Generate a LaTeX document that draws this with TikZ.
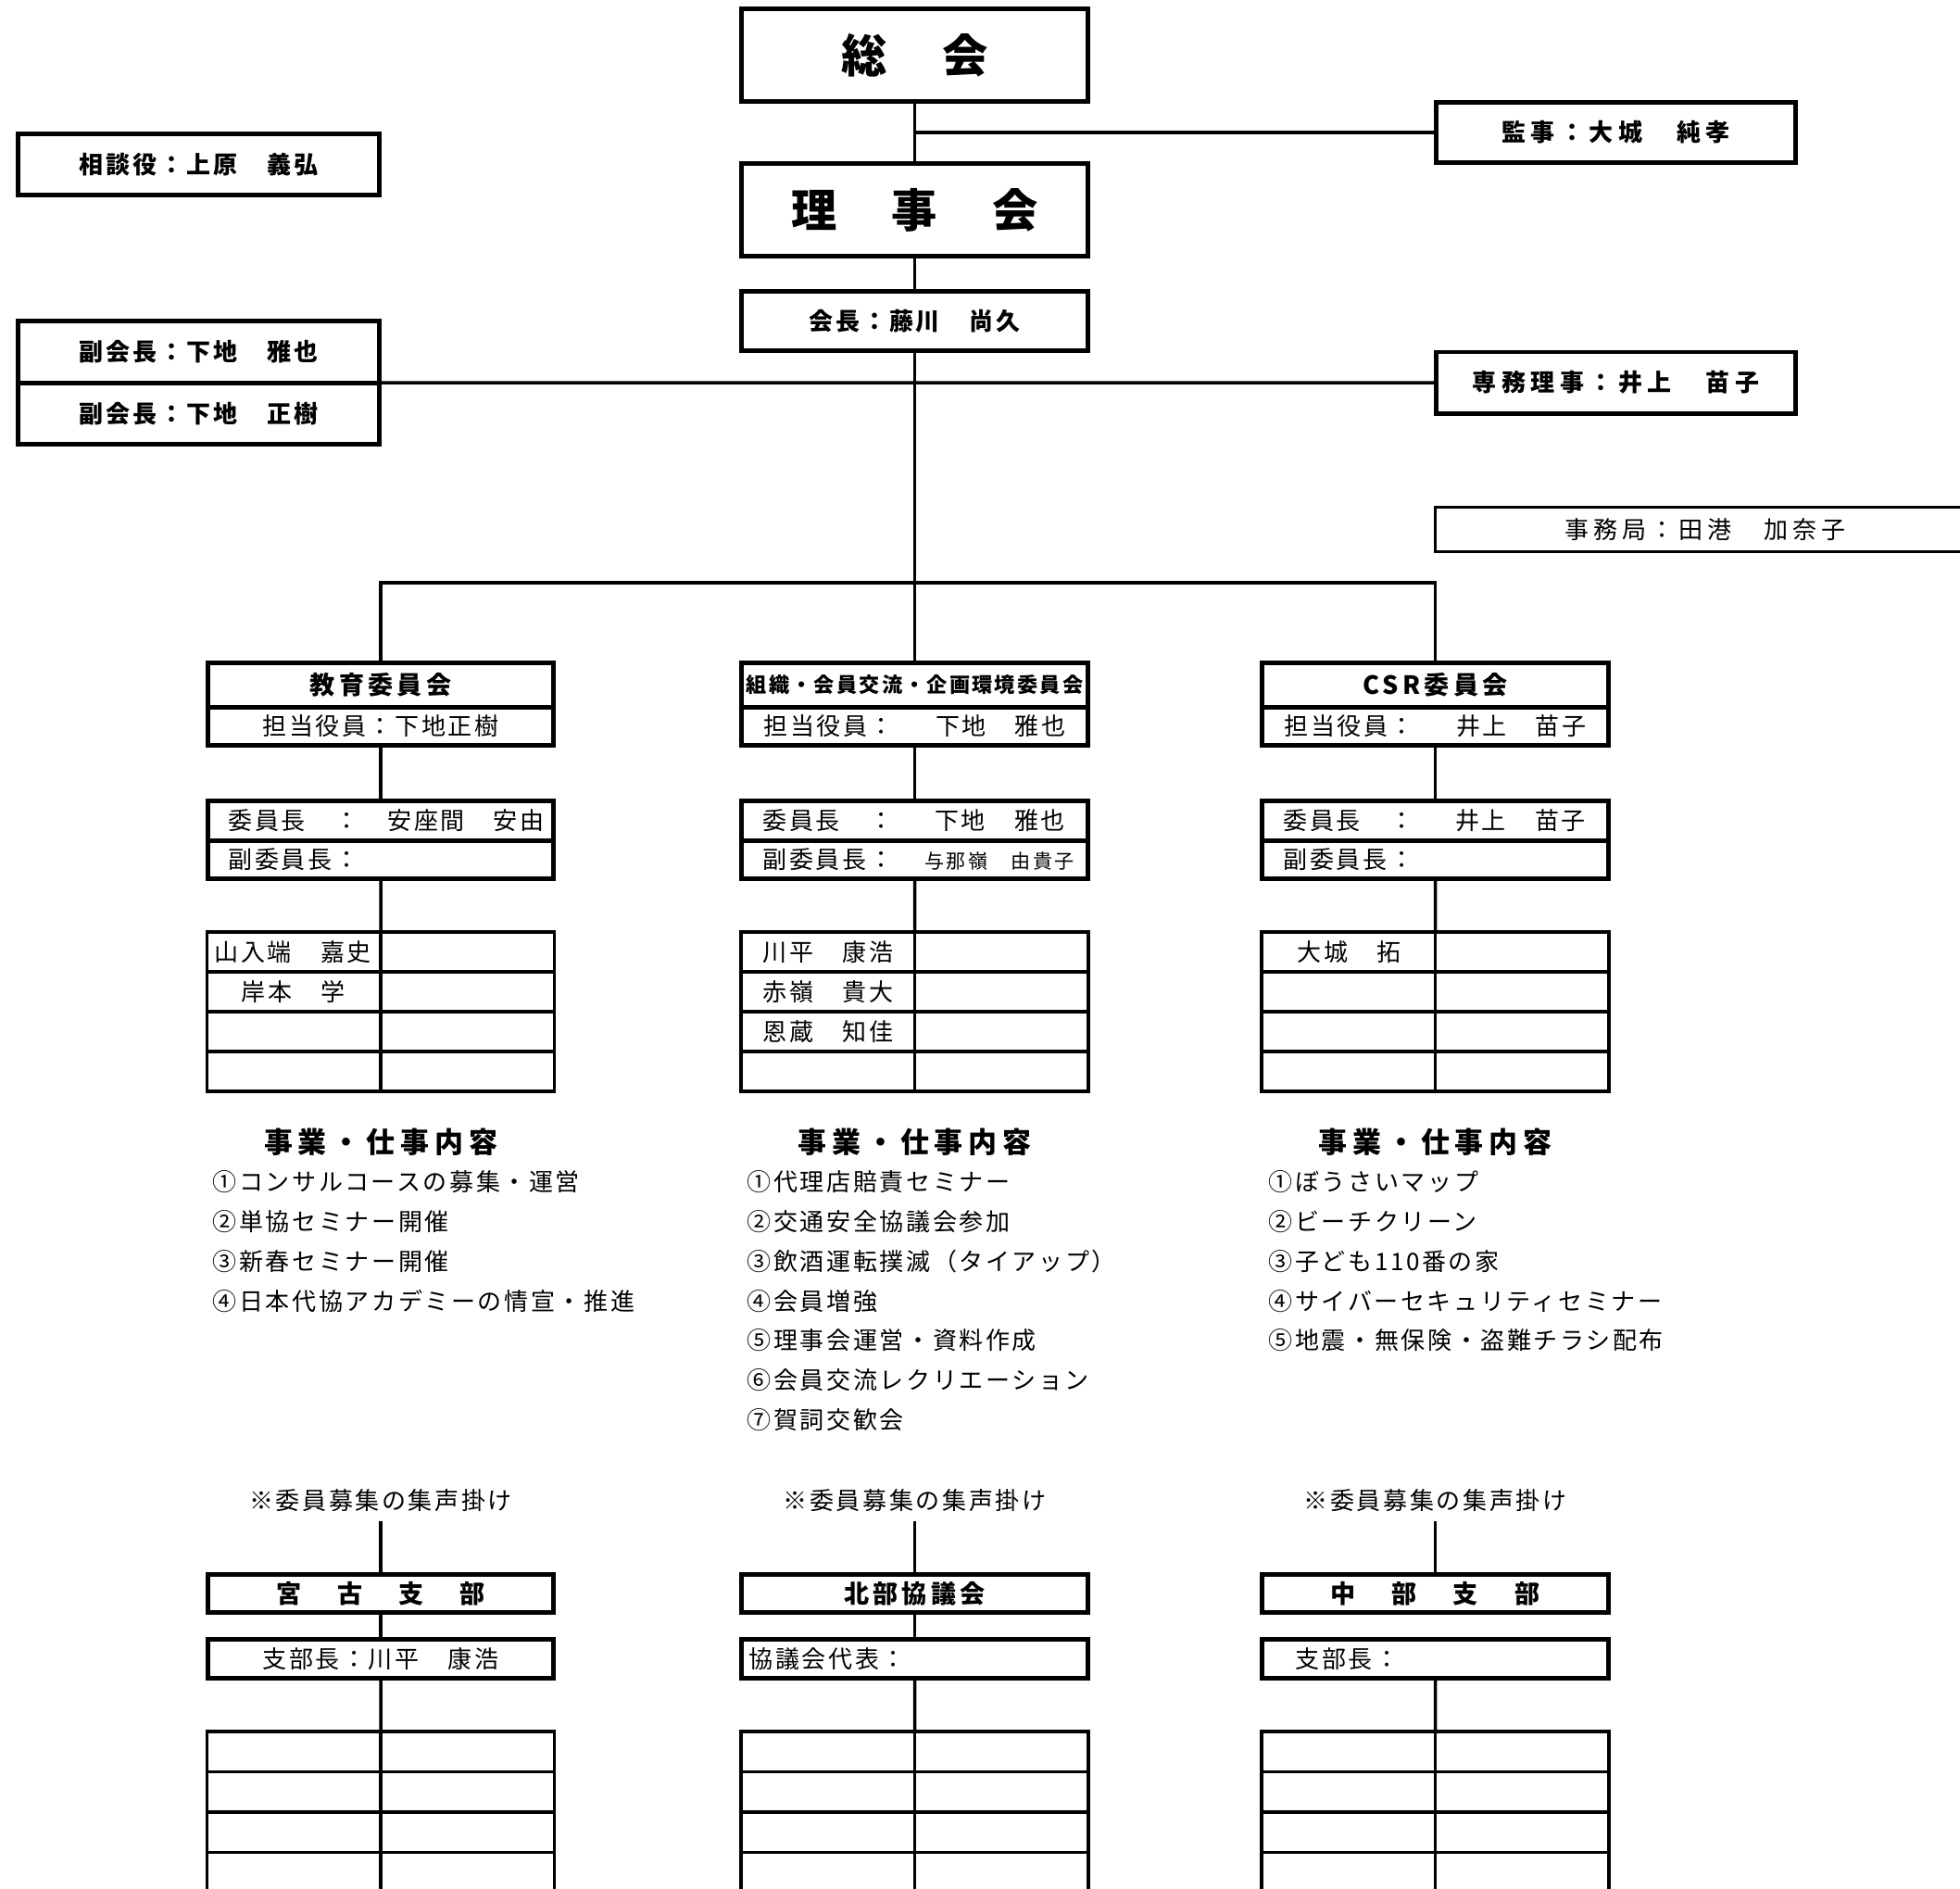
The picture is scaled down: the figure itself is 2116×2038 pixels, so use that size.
\documentclass[tikz,border=0pt]{standalone}
\usepackage{fontspec}
\setmainfont{Noto Sans CJK JP}
\newcommand\smallname{\fontsize{6}{7}\selectfont\addfontfeature{LetterSpace=11}}
\begin{document}
\begin{tikzpicture}[x=0.01cm,y=-0.01cm,
    box/.style={draw,line width=1.4pt,inner sep=0pt,outer sep=0pt,minimum width=3.73cm},
    cell/.style={draw,line width=0.95pt,inner sep=0pt,outer sep=0pt,minimum width=1.875cm},
    conn/.style={draw,line width=1pt},
    txt/.style={inner sep=0pt,anchor=west},
    bigfont/.style={font=\fontsize{14}{16}\selectfont\bfseries},
    offfont/.style={font=\fontsize{7.4}{9}\selectfont\bfseries\addfontfeature{LetterSpace=11}},
    widefont/.style={font=\fontsize{7.4}{9}\selectfont\bfseries\addfontfeature{LetterSpace=21}},
    regfont/.style={font=\fontsize{7.4}{9}\selectfont\addfontfeature{LetterSpace=10}},
    jimufont/.style={font=\fontsize{7.4}{9}\selectfont\addfontfeature{LetterSpace=18}},
    ttlfont/.style={font=\fontsize{7.7}{9}\selectfont\bfseries\addfontfeature{LetterSpace=16}},
    brfont/.style={font=\fontsize{7.7}{9}\selectfont\bfseries\addfontfeature{LetterSpace=22}},
    smallttl/.style={font=\fontsize{6.3}{8}\selectfont\bfseries\addfontfeature{LetterSpace=10}},
    hdfont/.style={font=\fontsize{8.8}{10}\selectfont\bfseries\addfontfeature{LetterSpace=19}}]
    \useasboundingbox (0,0) rectangle (2116,2038);

    \node[box,minimum height=1cm,bigfont] (sokai) at (987.5,59.5) {総\hspace{0.6cm}会};
    \node[box,minimum height=1cm,bigfont] (riji) at (987.5,226.5) {理\hspace{0.59cm}事\hspace{0.59cm}会};
    \node[box,minimum height=0.64cm,offfont] (kaicho) at (987.5,346.5) {会長：藤川　尚久};
    \node[box,minimum width=3.9cm,minimum height=0.66cm,offfont] (sodan) at (214.5,177.5) {相談役：上原　義弘};
    \node[box,minimum width=3.9cm,minimum height=0.665cm,offfont] (fuku1) at (214.5,379.75) {副会長：下地　雅也};
    \node[box,minimum width=3.9cm,minimum height=0.665cm,offfont] (fuku2) at (214.5,446.25) {副会長：下地　正樹};
    \node[box,minimum width=3.88cm,minimum height=0.65cm,widefont] (kansa) at (1744.5,143) {監事：大城　純孝};
    \node[box,minimum width=3.88cm,minimum height=0.66cm,widefont] (senmu) at (1744.5,413) {専務理事：井上　苗子};
    \node[draw,line width=0.95pt,inner sep=0pt,minimum width=5.83cm,minimum height=0.48cm,jimufont] (jimu) at (1841,571.5) {事務局：田港　加奈子};

    \coordinate (k1) at (987.5,143);
    \coordinate (hub) at (987.5,629);
    \draw[conn] (sokai) -- (riji);
    \draw[conn] (k1) -- (kansa);
    \draw[conn] (riji) -- (kaicho);
    \draw[conn] (kaicho) -- (hub);
    \draw[conn] (fuku1.south east) -- (senmu.west);

    \foreach [count=\i] \cx/\tf/\ttl/\tan in {411/ttlfont/{教育委員会}/{担当役員：下地正樹},
        987.5/smallttl/{組織・会員交流・企画環境委員会}/{担当役員：\hspace{0.45cm}下地　雅也},
        1549.5/ttlfont/{CSR委員会}/{担当役員：\hspace{0.45cm}井上　苗子}}{
        \node[box,minimum height=0.475cm,\tf] (t\i) at (\cx,739.25) {\ttl};
        \node[box,minimum height=0.415cm,regfont] (s\i) at (\cx,783.75) {\tan};
        \node[box,minimum height=0.425cm] (c\i) at (\cx,885.75) {};
        \node[box,minimum height=0.415cm] (v\i) at (\cx,927.75) {};
        \foreach \r in {1,...,4}{
            \node[cell,minimum height=0.43cm] (a\i\r) at (\cx-93.75,984.5+43*\r) {};
            \node[cell,minimum height=0.43cm] (b\i\r) at (\cx+93.75,984.5+43*\r) {};
        }
        \draw[conn] (s\i) -- (c\i);
        \draw[conn] (v\i) -- (a\i1.north east);
        \node[hdfont] (h\i) at (\cx,1233) {事業・仕事内容};
    }
    \draw[conn] (t1.north) |- (hub) -| (t3.north);
    \draw[conn] (hub) -- (t2.north);

    \node[txt,regfont] (c1a) at (246,885.75) {委員長　：　安座間　安由};
    \node[txt,regfont] (v1a) at (246,927.75) {副委員長：};
    \node[txt,regfont] (c2a) at (823,885.75) {委員長　：\hspace{0.45cm}下地　雅也};
    \node[txt,regfont] (v2a) at (823,927.75) {副委員長：\hspace{0.34cm}{\smallname 与那嶺　由貴子}};
    \node[txt,regfont] (c3a) at (1385,885.75) {委員長　：\hspace{0.45cm}井上　苗子};
    \node[txt,regfont] (v3a) at (1385,927.75) {副委員長：};

    \node[txt,regfont] (m11) at (231,1027.5) {山入端　嘉史};
    \node[txt,regfont] (m12) at (260,1070.5) {岸本　学};
    \node[txt,regfont] (m21) at (823,1027.5) {川平　康浩};
    \node[txt,regfont] (m22) at (823,1070.5) {赤嶺　貴大};
    \node[txt,regfont] (m23) at (823,1113.5) {恩蔵　知佳};
    \node[txt,regfont] (m31) at (1400,1027.5) {大城　拓};

    \foreach [count=\k] \s in {①コンサルコースの募集・運営,②単協セミナー開催,③新春セミナー開催,④日本代協アカデミーの情宣・推進}{
        \node[txt,regfont] (la\k) at (229,1233+42.8*\k) {\s};
    }
    \foreach [count=\k] \s in {①代理店賠責セミナー,②交通安全協議会参加,③飲酒運転撲滅（タイアップ）,④会員増強,⑤理事会運営・資料作成,⑥会員交流レクリエーション,⑦賀詞交歓会}{
        \node[txt,regfont] (lb\k) at (806,1233+42.8*\k) {\s};
    }
    \foreach [count=\k] \s in {①ぼうさいマップ,②ビーチクリーン,③子ども110番の家,④サイバーセキュリティセミナー,⑤地震・無保険・盗難チラシ配布}{
        \node[txt,regfont] (lc\k) at (1369,1233+42.8*\k) {\s};
    }

    \foreach [count=\i] \cx/\tf/\bt/\bh in {411/brfont/{宮　古　支　部}/{支部長：川平　康浩},
        987.5/ttlfont/{北部協議会}/{},
        1549.5/brfont/{中　部　支　部}/{}}{
        \node[regfont,inner sep=0.09cm] (n\i) at (\cx,1620) {※委員募集の集声掛け};
        \node[box,minimum height=0.41cm,\tf] (bt\i) at (\cx,1720) {\bt};
        \node[box,minimum height=0.42cm,regfont] (bh\i) at (\cx,1790.5) {\bh};
        \foreach \r in {1,...,4}{
            \node[cell,minimum height=0.435cm] (p\i\r) at (\cx-93.75,1847.25+43.5*\r) {};
            \node[cell,minimum height=0.435cm] (q\i\r) at (\cx+93.75,1847.25+43.5*\r) {};
        }
        \draw[conn] (n\i) -- (bt\i);
        \draw[conn] (bh\i) -- (p\i1.north east);
    }
    \draw[conn] (bt1) -- (bh1);
    \draw[conn] (bt2) -- (bh2);
    \node[txt,regfont] (bh2a) at (808,1790.5) {協議会代表：};
    \node[txt,regfont] (bh3a) at (1398,1790.5) {支部長：};
\end{tikzpicture}
\end{document}
